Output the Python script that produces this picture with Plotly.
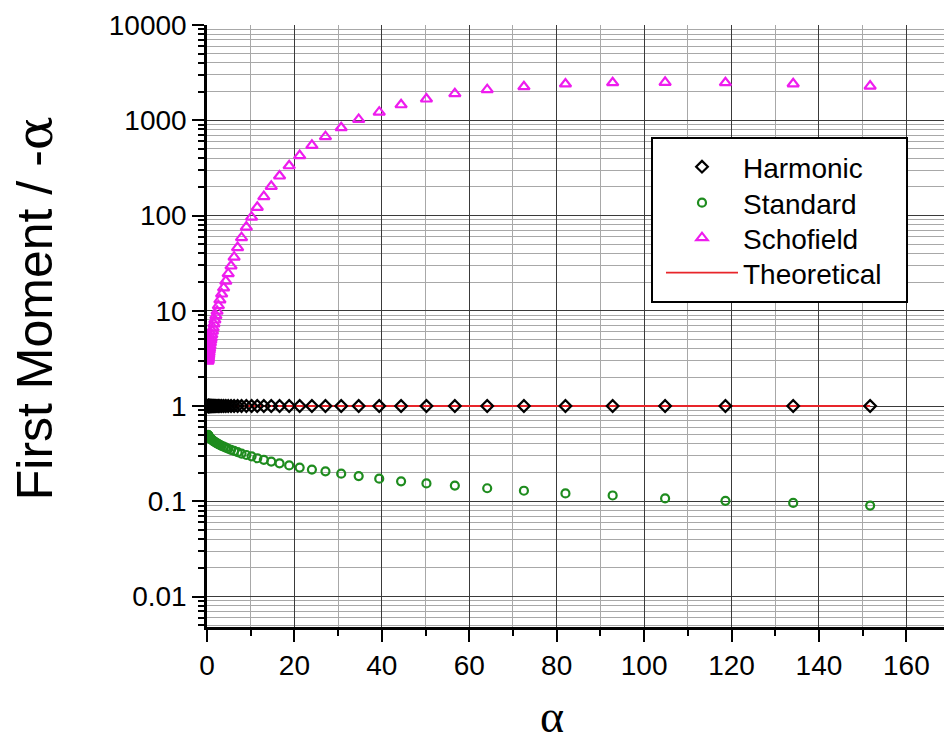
import plotly.graph_objects as go

# Coupling parameter alpha (shared by all three estimators)
alpha = [0.2, 0.23, 0.26, 0.29, 0.33, 0.37, 0.42, 0.47, 0.53, 0.6,
         0.68, 0.77, 0.87, 0.98, 1.1, 1.25, 1.41, 1.59, 1.8, 2.03,
         2.3, 2.6, 2.95, 3.35, 3.8, 4.3, 4.85, 5.5, 6.2, 7.0,
         7.9, 9.0, 10.2, 11.5, 13.0, 14.7, 16.6, 18.8, 21.2, 24.0,
         27.1, 30.7, 34.7, 39.4, 44.4, 50.2, 56.7, 64.1, 72.5, 82.0,
         92.8, 104.8, 118.6, 134.1, 151.7]

harmonic = [1.0, 1.0, 1.0, 1.0, 1.0, 1.0, 1.0, 1.0, 1.0, 1.0,
            1.0, 1.0, 1.0, 1.0, 1.0, 1.0, 1.0, 1.0, 1.0, 1.0,
            1.0, 1.0, 1.0, 1.0, 1.0, 1.0, 1.0, 1.0, 1.0, 1.0,
            1.0, 1.0, 1.0, 1.0, 1.0, 1.0, 1.0, 1.0, 1.0, 1.0,
            1.0, 1.0, 1.0, 1.0, 1.0, 1.0, 1.0, 1.0, 1.0, 1.0,
            1.0, 1.0, 1.0, 1.0, 1.0]

standard = [0.497, 0.494, 0.492, 0.489, 0.486, 0.483, 0.479, 0.476, 0.472, 0.468,
            0.463, 0.458, 0.453, 0.448, 0.443, 0.437, 0.431, 0.425, 0.419, 0.412,
            0.405, 0.398, 0.39, 0.382, 0.374, 0.365, 0.356, 0.347, 0.338, 0.328,
            0.317, 0.306, 0.296, 0.283, 0.272, 0.261, 0.25, 0.238, 0.226, 0.215,
            0.206, 0.195, 0.184, 0.1725, 0.162, 0.154, 0.146, 0.137, 0.129, 0.121,
            0.115, 0.107, 0.101, 0.096, 0.090]

schofield = [2.95, 3.0, 3.07, 3.15, 3.25, 3.36, 3.5, 3.65, 3.85, 4.05,
             4.3, 4.6, 4.9, 5.2, 5.6, 6.1, 6.6, 7.3, 8.0, 8.9,
             9.9, 11.3, 13.0, 15.0, 17.4, 20.5, 24.5, 29.5, 36.5, 46.0,
             58.5, 75.5, 96.0, 122, 158, 202, 260, 333, 425, 545,
             672, 835, 1020, 1215, 1455, 1671, 1901, 2094, 2250, 2404,
             2478, 2496, 2478, 2415, 2286]

theory_alpha = [0.0, 151.7]
theory_value = [1.0, 1.0]

ytick_vals = [0.01, 0.1, 1, 10, 100, 1000, 10000]
ytick_text = ["0.01", "0.1", "1", "10", "100", "1000", "10000"]
xtick_vals = [0, 20, 40, 60, 80, 100, 120, 140, 160]

FONT = "Arial, 'Liberation Sans', sans-serif"
SERIF = "'Liberation Serif', 'Times New Roman', serif"

fig = go.Figure()

fig.add_trace(go.Scatter(
    x=theory_alpha, y=theory_value, mode="lines", name="Theoretical",
    line=dict(color="#e8252a", width=1.8), legend="legend4"))

fig.add_trace(go.Scatter(
    x=alpha, y=harmonic, mode="markers", name="Harmonic",
    marker=dict(symbol="diamond-open", size=9, color="black",
                line=dict(width=2.2, color="black")), legend="legend"))

fig.add_trace(go.Scatter(
    x=alpha, y=standard, mode="markers", name="Standard",
    marker=dict(symbol="circle-open", size=8, color="#1e8c1e",
                line=dict(width=2.2, color="#1e8c1e")), legend="legend2"))

fig.add_trace(go.Scatter(
    x=alpha, y=schofield, mode="markers", name="Schofield",
    marker=dict(symbol="triangle-up-open", size=10, color="#ee1cee",
                line=dict(width=2.2, color="#ee1cee")), legend="legend3"))


def legend_row(ypos):
    # one legend entry per row, all sharing the framed box drawn below
    return dict(
        x=0.616, y=ypos, xanchor="left", yanchor="middle",
        bgcolor="rgba(0,0,0,0)", borderwidth=0,
        font=dict(family=FONT, size=28, color="black"),
        itemwidth=72,
    )


fig.update_layout(
    width=944, height=746,
    margin=dict(l=207, r=0, t=25, b=119),
    paper_bgcolor="white", plot_bgcolor="white",
    font=dict(family=FONT, size=28, color="black"),
    showlegend=True,
    legend=legend_row(0.7641),
    legend2=legend_row(0.7043),
    legend3=legend_row(0.6462),
    legend4=legend_row(0.5880),
    shapes=[
        dict(type="rect", xref="paper", yref="paper",
             x0=0.6038, x1=0.9498, y0=0.5399, y1=0.8123,
             fillcolor="white", line=dict(color="black", width=2),
             layer="above"),
    ],
    xaxis=dict(
        range=[0, 168.6], tickvals=xtick_vals,
        showline=True, linecolor="black", linewidth=2.5, mirror=False,
        ticks="outside", ticklen=12, tickwidth=2, tickcolor="black",
        showgrid=True, gridcolor="#3a3a3a", gridwidth=1,
        zeroline=False,
        minor=dict(dtick=10, ticks="outside", ticklen=6, tickwidth=2,
                   tickcolor="black", showgrid=True, gridcolor="#a8a8a8",
                   gridwidth=1),
        tickfont=dict(family=FONT, size=28),
    ),
    yaxis=dict(
        type="log", range=[-2.32, 4.0],
        tickvals=ytick_vals, ticktext=ytick_text,
        showline=True, linecolor="black", linewidth=2.5, mirror=False,
        ticks="outside", ticklen=12, tickwidth=2, tickcolor="black",
        showgrid=True, gridcolor="#3a3a3a", gridwidth=1,
        zeroline=False,
        minor=dict(dtick="D1", ticks="outside", ticklen=6, tickwidth=2,
                   tickcolor="black", showgrid=True, gridcolor="#a8a8a8",
                   gridwidth=1),
        tickfont=dict(family=FONT, size=28),
    ),
    annotations=[
        dict(text="First Moment / -<span style=\"font-family:DejaVu Serif\">α</span>",
             xref="paper", yref="paper", x=-0.233, y=0.53,
             xanchor="center", yanchor="middle", textangle=-90,
             showarrow=False, font=dict(family=FONT, size=50, color="black")),
        dict(text="α", xref="paper", yref="paper", x=0.468, y=-0.1944,
             xanchor="center", yanchor="bottom", showarrow=False,
             font=dict(family=SERIF, size=46, color="black")),
    ],
)

fig.write_html("out.html")
